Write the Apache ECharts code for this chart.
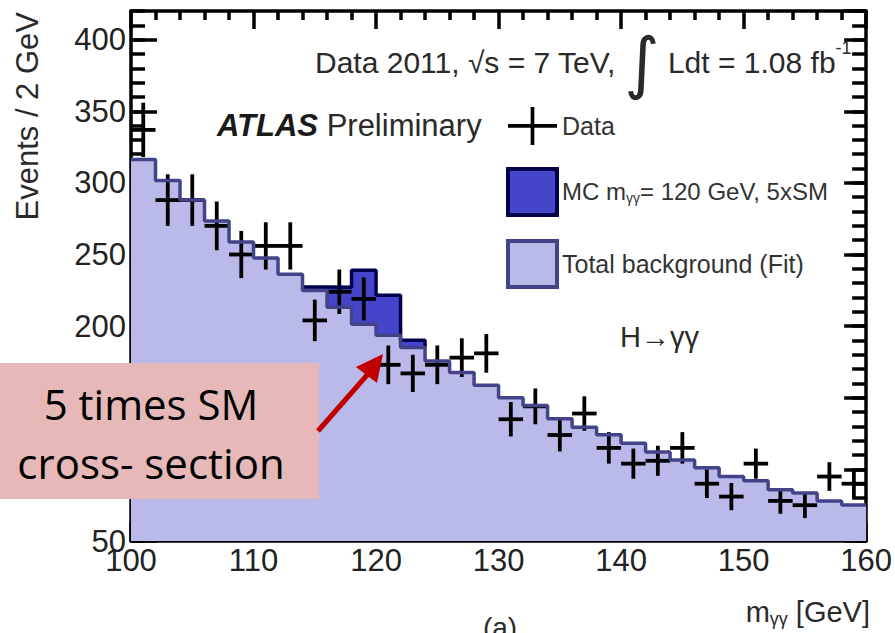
<!DOCTYPE html>
<html>
<head>
<meta charset="utf-8">
<title>ATLAS H→γγ, 2011</title>
<script src="https://cdn.jsdelivr.net/npm/echarts@6/dist/echarts.min.js"></script>
<style>
  html, body { margin: 0; padding: 0; background: #fff; }
  #chart { width: 895px; height: 633px; }
</style>
</head>
<body>
<div id="chart"></div>
<script>
// m_γγ bin centres (2 GeV bins)
var massCentres = [101, 103, 105, 107, 109, 111, 113, 115, 117, 119,
                   121, 123, 125, 127, 129, 131, 133, 135, 137, 139,
                   141, 143, 145, 147, 149, 151, 153, 155, 157, 159];
// data events per bin and their error bars
var dataCounts = [337, 288, 288, 270, 250, 256, 256, 204, 224, 219,
                  173, 167, 173, 178, 181, 135, 144, 124, 139, 115,
                  104, 106, 115, 90, 81, 104, 78, 75, 95, 90];
var dataErrors = [19, 18, 18, 17, 16.5, 16.5, 16.5, 14.5, 15.5, 15,
                  13.5, 13, 13.5, 13.5, 13.5, 12, 12.5, 11.5, 12, 11,
                  10.5, 10.5, 11, 10, 9.5, 10.5, 9, 9, 10, 9.5];
// total background (fit)
var backgroundFit = [316.4, 301.7, 288, 273.4, 258.7, 247.6, 236.2, 224.8, 213.2, 201.3,
                     193.7, 185, 175.7, 167.6, 158.8, 150, 144.6, 135.3, 129.4, 124.2,
                     118.3, 112.1, 106.5, 101.2, 95, 92, 85.8, 83.5, 77.9, 75.1];
// MC m_γγ = 120 GeV, 5xSM, stacked on the background
var signal5xSM = [0, 0, 0, 0, 0, 0, 0, 2.5, 14, 37.7,
                  27.8, 5.2, 0, 0, 0, 0, 0, 0, 0, 0,
                  0, 0, 0, 0, 0, 0, 0, 0, 0, 0];
// axis ranges
var massRange = [100, 160];
var eventRange = [50, 420];
// y labels that sit behind the callout box in the original
var hiddenYLabels = [100, 150];

var FONT = "'Liberation Sans', Arial, Helvetica, sans-serif";
var binHalf = 1;

// step outline of the background: one point per lower bin edge + closing edge
var bgStep = massCentres.map(function (m, i) { return [m - binHalf, backgroundFit[i]]; });
bgStep.push([massCentres[massCentres.length - 1] + binHalf, backgroundFit[backgroundFit.length - 1]]);

// background + signal, only where the signal is present
var sigStep = [];
var lastSig = -1;
massCentres.forEach(function (m, i) {
  if (signal5xSM[i] > 0) {
    sigStep.push([m - binHalf, backgroundFit[i] + signal5xSM[i]]);
    lastSig = i;
  }
});
sigStep.push([massCentres[lastSig] + binHalf, backgroundFit[lastSig]]);

var dataPoints = massCentres.map(function (m, i) { return [m, dataCounts[i], dataErrors[i]]; });

var axisLineStyle = { color: '#000', width: 3.5 };
var tickStyle = { color: '#000', width: 3.5 };

function yAxisOf(pos, interval, tickLen, withLine, withLabel) {
  return {
    type: 'value', position: pos,
    min: eventRange[0], max: eventRange[1], interval: interval,
    axisLine: { show: withLine, lineStyle: axisLineStyle },
    axisTick: { show: true, inside: true, length: tickLen, lineStyle: tickStyle },
    axisLabel: {
      show: withLabel, fontSize: 31, color: '#222', fontFamily: FONT, margin: 5,
      showMaxLabel: false,
      formatter: function (v) { return hiddenYLabels.indexOf(v) >= 0 ? '' : String(v); }
    },
    splitLine: { show: false }
  };
}

function xAxisOf(pos, withLabel) {
  return {
    type: 'value', position: pos,
    min: massRange[0], max: massRange[1], interval: 10,
    axisLine: { show: true, lineStyle: axisLineStyle },
    axisTick: { show: true, inside: true, length: 18, lineStyle: tickStyle },
    minorTick: { show: true, splitNumber: 5, length: 9, lineStyle: tickStyle },
    axisLabel: { show: withLabel, fontSize: 31, color: '#222', fontFamily: FONT, margin: 4 },
    splitLine: { show: false }
  };
}

var chart = echarts.init(document.getElementById('chart'), null, { renderer: 'svg' });

chart.setOption({
  animation: false,
  backgroundColor: '#fff',
  grid: { left: 131, right: 27, top: 11, bottom: 92 },
  xAxis: [xAxisOf('bottom', true), xAxisOf('top', false)],
  yAxis: [
    yAxisOf('left', 50, 26, true, true),
    yAxisOf('left', 10, 14, false, false),
    yAxisOf('right', 50, 22, true, false),
    yAxisOf('right', 10, 14, false, false)
  ],
  legend: {
    left: 506, top: 107, orient: 'vertical',
    itemWidth: 49, itemHeight: 46, itemGap: 22, padding: 0,
    selectedMode: false, symbolKeepAspect: true,
    textStyle: {
      fontSize: 25, color: '#333', fontFamily: FONT,
      rich: {
        n: { fontSize: 24, color: '#333', fontFamily: FONT },
        s: { fontSize: 14, color: '#333', fontFamily: FONT, verticalAlign: 'bottom', padding: [12, 0, 0, 0] }
      }
    },
    formatter: function (name) {
      if (name === 'MC') return '{n|MC m}{s|γγ}{n|= 120 GeV, 5xSM}';
      return name;
    },
    data: [
      { name: 'Data', icon: 'path://M0,18.5L53,18.5L53,22.5L0,22.5Z M24.5,0L28.5,0L28.5,41L24.5,41Z',
        itemStyle: { color: '#000', borderWidth: 0 } },
      { name: 'MC', icon: 'rect', itemStyle: { color: '#4545cc', borderColor: '#00004d', borderWidth: 4 } },
      { name: 'Total background (Fit)', icon: 'rect', itemStyle: { color: '#babaea', borderColor: '#43438a', borderWidth: 4 } }
    ]
  },
  series: [
    {
      name: 'MC', type: 'line', step: 'end', symbol: 'none', silent: true,
      data: sigStep,
      lineStyle: { color: '#00004d', width: 3.5 },
      itemStyle: { color: '#4545cc' },
      areaStyle: { color: '#4545cc', opacity: 1 }
    },
    {
      name: 'Total background (Fit)', type: 'line', step: 'end', symbol: 'none', silent: true,
      data: bgStep,
      lineStyle: { color: '#43438a', width: 3.5 },
      itemStyle: { color: '#babaea' },
      areaStyle: { color: '#babaea', opacity: 1 }
    },
    {
      name: 'Data', type: 'custom', z: 3, clip: true, silent: true,
      itemStyle: { color: '#000' },
      encode: { x: 0, y: 1 },
      data: dataPoints,
      renderItem: function (params, api) {
        var m = api.value(0), v = api.value(1), e = api.value(2);
        var l = api.coord([m - binHalf, v]), r = api.coord([m + binHalf, v]);
        var t = api.coord([m, v + e]), b = api.coord([m, v - e]);
        return {
          type: 'group',
          children: [
            { type: 'line', shape: { x1: l[0], y1: l[1], x2: r[0], y2: r[1] }, style: { stroke: '#000', lineWidth: 3.8 } },
            { type: 'line', shape: { x1: t[0], y1: t[1], x2: b[0], y2: b[1] }, style: { stroke: '#000', lineWidth: 3.8 } }
          ]
        };
      }
    }
  ],
  graphic: [
    // y axis title
    {
      type: 'text', x: 27, y: 12, rotation: Math.PI / 2, z: 100,
      style: { text: 'Events / 2 GeV', fontSize: 31, fontFamily: FONT, fill: '#2a2a2a', align: 'right', verticalAlign: 'middle' }
    },
    // x axis title
    {
      type: 'text', x: 870, y: 612, z: 100,
      style: {
        text: '{n|m}{s|γγ}{n| [GeV]}', align: 'right', verticalAlign: 'middle',
        rich: {
          n: { fontSize: 29, fontFamily: FONT, fill: '#2a2a2a' },
          s: { fontSize: 18, fontFamily: FONT, fill: '#2a2a2a', verticalAlign: 'bottom', padding: [13, 0, 0, 0] }
        }
      }
    },
    {
      type: 'text', x: 500, y: 613, z: 100,
      style: { text: '(a)', fontSize: 28, fontFamily: FONT, fill: '#2a2a2a', align: 'center', verticalAlign: 'top' }
    },
    // luminosity line
    {
      type: 'text', x: 315, y: 62, z: 100,
      style: {
        text: '{n|Data 2011, √s = 7 TeV, }{i|∫}{n| Ldt = 1.08 fb}{sup|-1}', align: 'left', verticalAlign: 'middle',
        rich: {
          n: { fontSize: 30, fontFamily: FONT, fill: '#2a2a2a' },
          i: { fontSize: 68, fontFamily: "'DejaVu Sans'", fill: '#2a2a2a' },
          sup: { fontSize: 18, fontFamily: FONT, fill: '#2a2a2a', padding: [0, 0, 28, 0] }
        }
      }
    },
    {
      type: 'text', x: 217, y: 125, z: 100,
      style: {
        text: '{b|ATLAS}{n| Preliminary}', align: 'left', verticalAlign: 'middle',
        rich: {
          b: { fontSize: 31, fontFamily: FONT, fontWeight: 'bold', fontStyle: 'italic', fill: '#1a1a1a' },
          n: { fontSize: 31, fontFamily: FONT, fill: '#2a2a2a' }
        }
      }
    },
    {
      type: 'text', x: 620, y: 337, z: 100,
      style: { text: 'H→γγ', fontSize: 29, fontFamily: FONT, fill: '#2a2a2a', align: 'left', verticalAlign: 'middle' }
    },
    // callout box
    {
      type: 'rect', z: 100,
      shape: { x: 0, y: 363, width: 319, height: 136 },
      style: { fill: '#e6b8b7' }
    },
    {
      type: 'text', x: 151, y: 403, z: 101,
      style: { text: '5 times SM', fontSize: 42, fontFamily: "'Open Sans', sans-serif", fill: '#000', align: 'center', verticalAlign: 'middle' }
    },
    {
      type: 'text', x: 151, y: 462, z: 101,
      style: { text: 'cross- section', fontSize: 42, fontFamily: "'Open Sans', sans-serif", fill: '#000', align: 'center', verticalAlign: 'middle' }
    },
    // red arrow
    {
      type: 'polyline', z: 101,
      shape: { points: [[318, 431], [368, 374]] },
      style: { stroke: '#c00000', lineWidth: 5, fill: null }
    },
    {
      type: 'polygon', z: 101,
      shape: { points: [[383, 354], [356, 367], [377, 383]] },
      style: { fill: '#c00000' }
    }
  ]
});
</script>
</body>
</html>
